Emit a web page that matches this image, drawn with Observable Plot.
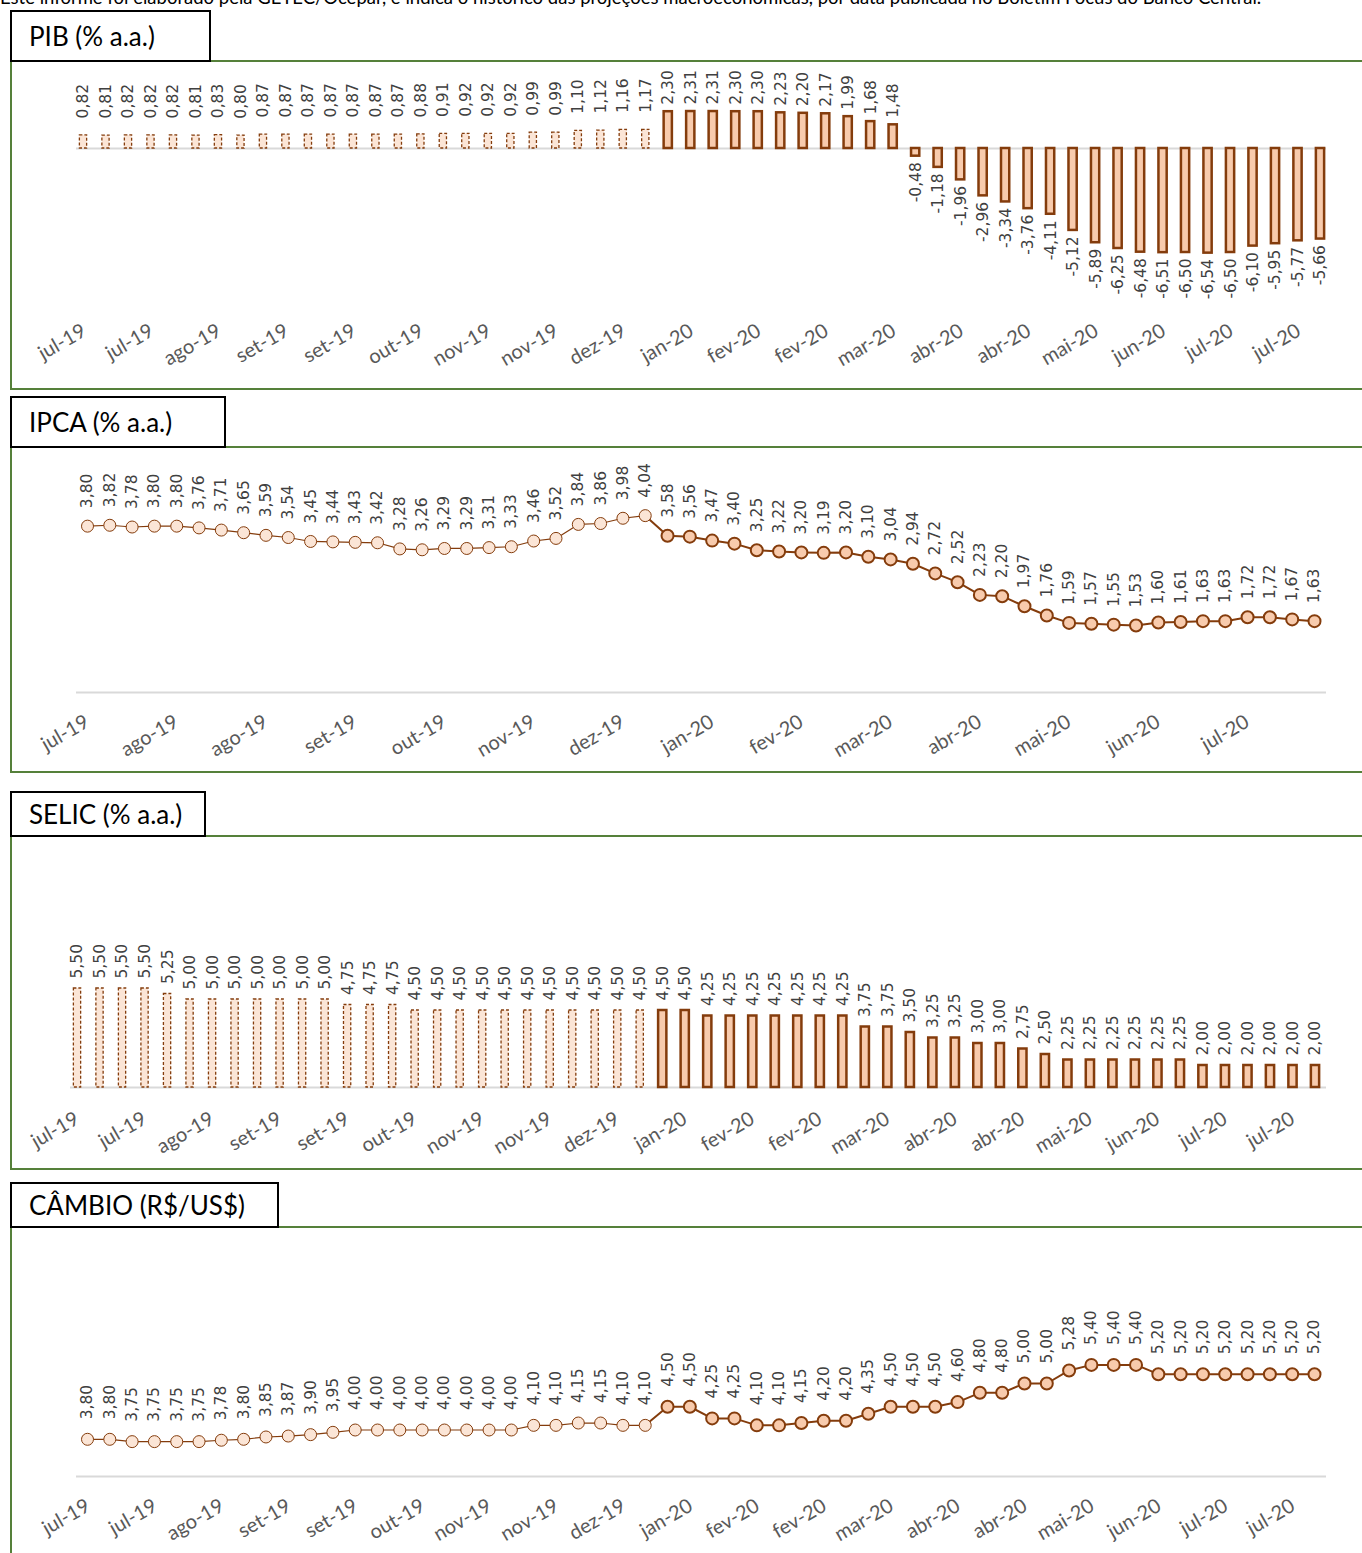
<!DOCTYPE html>
<html><head><meta charset="utf-8">
<script src="https://cdn.jsdelivr.net/npm/d3@7"></script>
<script src="https://cdn.jsdelivr.net/npm/@observablehq/plot@0.6"></script>
<style>
body{margin:0;background:#fff;}
#page{position:relative;width:1362px;height:1553px;overflow:hidden;font-family:Lato,"Open Sans",sans-serif;}
.note{position:absolute;left:0;top:-12px;font-size:18.5px;line-height:18px;white-space:nowrap;color:#000;}
.frame{position:absolute;left:10px;width:1370px;border:2px solid #55803a;border-right:none;box-sizing:border-box;}
.title{position:absolute;left:10px;background:#fff;border:2px solid #000;box-sizing:border-box;font-size:26px;padding-left:17px;display:flex;align-items:center;z-index:2;color:#000;}
.chart{position:absolute;left:0;z-index:1;}
</style></head>
<body>
<div id="page">
  <div class="note">Este informe foi elaborado pela GETEC/Ocepar, e indica o histórico das projeções macroeconômicas, por data publicada no Boletim Focus do Banco Central.</div>
  <div class="frame" style="top:60px;height:330px"></div>
  <div class="title" style="top:10px;width:201px;height:52px">PIB (% a.a.)</div>
  <div class="frame" style="top:446px;height:327px"></div>
  <div class="title" style="top:396px;width:216px;height:52px">IPCA (% a.a.)</div>
  <div class="frame" style="top:835px;height:335px"></div>
  <div class="title" style="top:791px;width:196px;height:46px">SELIC (% a.a.)</div>
  <div class="frame" style="top:1226px;height:400px"></div>
  <div class="title" style="top:1182px;width:269px;height:46px">CÂMBIO (R$/US$)</div>
</div>
<script>
// ---- data (weekly Focus bulletins, jul-19 .. jul-20) ----
const nHist = 26; // first 26 bulletins drawn light / dashed
const pib = [0.82,0.81,0.82,0.82,0.82,0.81,0.83,0.80,0.87,0.87,0.87,0.87,0.87,0.87,0.87,0.88,0.91,0.92,0.92,0.92,0.99,0.99,1.10,1.12,1.16,1.17,
  2.30,2.31,2.31,2.30,2.30,2.23,2.20,2.17,1.99,1.68,1.48,
  -0.48,-1.18,-1.96,-2.96,-3.34,-3.76,-4.11,-5.12,-5.89,-6.25,-6.48,-6.51,-6.50,-6.54,-6.50,-6.10,-5.95,-5.77,-5.66];
const ipca = [3.80,3.82,3.78,3.80,3.80,3.76,3.71,3.65,3.59,3.54,3.45,3.44,3.43,3.42,3.28,3.26,3.29,3.29,3.31,3.33,3.46,3.52,3.84,3.86,3.98,4.04,
  3.58,3.56,3.47,3.40,3.25,3.22,3.20,3.19,3.20,3.10,3.04,2.94,2.72,2.52,2.23,2.20,1.97,1.76,1.59,1.57,1.55,1.53,1.60,1.61,1.63,1.63,1.72,1.72,1.67,1.63];
const selic = [5.50,5.50,5.50,5.50,5.25,5.00,5.00,5.00,5.00,5.00,5.00,5.00,4.75,4.75,4.75,4.50,4.50,4.50,4.50,4.50,4.50,4.50,4.50,4.50,4.50,4.50,
  4.50,4.50,4.25,4.25,4.25,4.25,4.25,4.25,4.25,3.75,3.75,3.50,3.25,3.25,3.00,3.00,2.75,2.50,2.25,2.25,2.25,2.25,2.25,2.25,2.00,2.00,2.00,2.00,2.00,2.00];
const cambio = [3.80,3.80,3.75,3.75,3.75,3.75,3.78,3.80,3.85,3.87,3.90,3.95,4.00,4.00,4.00,4.00,4.00,4.00,4.00,4.00,4.10,4.10,4.15,4.15,4.10,4.10,
  4.50,4.50,4.25,4.25,4.10,4.10,4.15,4.20,4.20,4.35,4.50,4.50,4.50,4.60,4.80,4.80,5.00,5.00,5.28,5.40,5.40,5.40,5.20,5.20,5.20,5.20,5.20,5.20,5.20,5.20];
const ticks3 = ["jul-19","jul-19","ago-19","set-19","set-19","out-19","nov-19","nov-19","dez-19","jan-20","fev-20","fev-20","mar-20","abr-20","abr-20","mai-20","jun-20","jul-20","jul-20"]; // every 3rd bulletin
const ticks4 = ["jul-19","ago-19","ago-19","set-19","out-19","nov-19","dez-19","jan-20","fev-20","mar-20","abr-20","mai-20","jun-20","jul-20"]; // every 4th bulletin

// ---- styles ----
const DARK = "#843c0c", LIGHT = "#fbe5d6", MID = "#f8cbad", GRID = "#d9d9d9", LBL = "#404040";
const fmt = v => v.toFixed(2).replace(".", ",");
const N = pib.length;
const rows = arr => arr.map((v, i) => ({i, v}));
const page = document.getElementById("page");
const T = {fontFamily: "DejaVu Sans", fontSize: 15.5, fill: LBL, rotate: -90};

function axis(labels, step, dx) {
  const idx = labels.map((_, k) => k * step);
  return Plot.axisX(idx, {tickSize: 0, tickPadding: 0, tickRotate: -30, textAnchor: "end", lineAnchor: "top", label: null,
    tickFormat: i => labels[i / step], fontSize: 20, fontFamily: "Lato", fill: "#595959", dx});
}
function place(svg, top) {
  svg.classList.add("chart");
  svg.style.top = top + "px";
  page.appendChild(svg);
}
const baseStyle = {overflow: "visible", background: "transparent"};

// ---- PIB ----
{
  const d = rows(pib), h = d.slice(0, nHist), r = d.slice(nHist);
  place(Plot.plot({
    width: 1362, height: 326, marginLeft: 76, marginRight: 36, marginTop: 0, marginBottom: 66, style: baseStyle,
    x: {type: "band", domain: d3.range(N), range: [71.76, 1331.24], paddingInner: 0.5, paddingOuter: 0.25, round: false, axis: null},
    y: {domain: [-8, 3], range: [214, 38], axis: null},
    marks: [
      Plot.ruleY([0], {stroke: GRID, strokeWidth: 2}),
      Plot.barY(h, {x: "i", y: "v", fill: LIGHT, stroke: DARK, strokeWidth: 1.3, strokeDasharray: "3,2", insetLeft: 2, insetRight: 2}),
      Plot.barY(r, {x: "i", y: "v", fill: MID, stroke: DARK, strokeWidth: 2.5, insetLeft: 1.5, insetRight: 1.5}),
      Plot.text(h, {...T, x: "i", y: "v", text: d => fmt(d.v), textAnchor: "start", dy: -17}),
      Plot.text(r.filter(d => d.v >= 0), {...T, x: "i", y: "v", text: d => fmt(d.v), textAnchor: "start", dy: -7}),
      Plot.text(r.filter(d => d.v < 0), {...T, x: "i", y: "v", text: d => fmt(d.v), textAnchor: "end", dy: 6}),
      axis(ticks3, 3, -3)
    ]
  }), 62);
}

// ---- IPCA ----
{
  const d = rows(ipca), h = d.slice(0, nHist), r = d.slice(nHist);
  place(Plot.plot({
    width: 1362, height: 322, marginLeft: 76, marginRight: 36, marginTop: 0, marginBottom: 57, style: baseStyle,
    x: {type: "point", domain: d3.range(N), range: [87, 1314], padding: 0, round: false, axis: null},
    y: {domain: [0, 4.5], range: [244, 47], axis: null},
    marks: [
      Plot.ruleY([0], {stroke: GRID, strokeWidth: 2}),
      Plot.line(d.slice(0, nHist), {x: "i", y: "v", stroke: DARK, strokeWidth: 1.2}),
      Plot.line(d.slice(nHist - 1), {x: "i", y: "v", stroke: DARK, strokeWidth: 2}),
      Plot.dot(h, {x: "i", y: "v", r: 6, fill: LIGHT, stroke: DARK, strokeWidth: 1}),
      Plot.dot(r, {x: "i", y: "v", r: 6, fill: MID, stroke: DARK, strokeWidth: 2}),
      Plot.text(d, {...T, x: "i", y: "v", text: d => fmt(d.v), textAnchor: "start", dy: -18}),
      axis(ticks4, 4, -4)
    ]
  }), 448);
}

// ---- SELIC ----
{
  const d = rows(selic), h = d.slice(0, nHist), r = d.slice(nHist);
  const yMin = 1;
  place(Plot.plot({
    width: 1362, height: 329, marginLeft: 70, marginRight: 36, marginTop: 0, marginBottom: 56, style: baseStyle,
    x: {type: "band", domain: d3.range(N), range: [65.75, 1326.25], paddingInner: 0.5, paddingOuter: 0.25, round: false, axis: null},
    y: {domain: [yMin, 6.5], range: [250, 129], axis: null},
    marks: [
      Plot.ruleY([yMin], {stroke: GRID, strokeWidth: 2}),
      Plot.barY(h, {x: "i", y1: () => yMin, y2: "v", fill: LIGHT, stroke: DARK, strokeWidth: 1.3, strokeDasharray: "3,2", insetLeft: 2, insetRight: 2}),
      Plot.barY(r, {x: "i", y1: () => yMin, y2: "v", fill: MID, stroke: DARK, strokeWidth: 2.5, insetLeft: 1.5, insetRight: 1.5}),
      Plot.text(d, {...T, x: "i", y: "v", text: d => fmt(d.v), textAnchor: "start", dy: -10}),
      axis(ticks3, 3, -4)
    ]
  }), 837);
}

// ---- CÂMBIO ----
{
  const d = rows(cambio), h = d.slice(0, nHist), r = d.slice(nHist);
  const yMin = 3;
  place(Plot.plot({
    width: 1362, height: 325, marginLeft: 76, marginRight: 36, marginTop: 0, marginBottom: 56, style: baseStyle,
    x: {type: "point", domain: d3.range(N), range: [87, 1314], padding: 0, round: false, axis: null},
    y: {domain: [yMin, 6], range: [248, 108.5], axis: null},
    marks: [
      Plot.ruleY([yMin], {stroke: GRID, strokeWidth: 2}),
      Plot.line(d.slice(0, nHist), {x: "i", y: "v", stroke: DARK, strokeWidth: 1.2}),
      Plot.line(d.slice(nHist - 1), {x: "i", y: "v", stroke: DARK, strokeWidth: 2}),
      Plot.dot(h, {x: "i", y: "v", r: 6, fill: LIGHT, stroke: DARK, strokeWidth: 1}),
      Plot.dot(r, {x: "i", y: "v", r: 6, fill: MID, stroke: DARK, strokeWidth: 2}),
      Plot.text(d, {...T, x: "i", y: "v", text: d => fmt(d.v), textAnchor: "start", dy: -20}),
      axis(ticks3, 3, -3)
    ]
  }), 1228);
}
</script>
</body></html>
